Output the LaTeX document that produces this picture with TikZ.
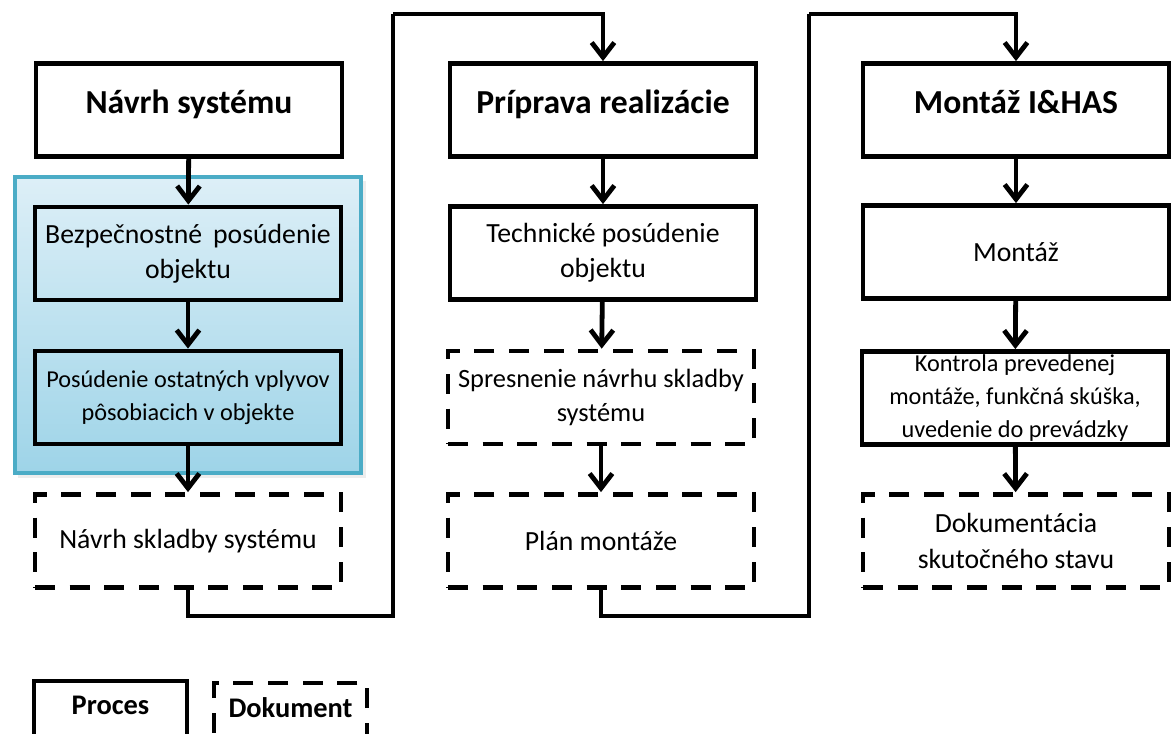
\documentclass[tikz,border=0pt]{standalone}
\usepackage{fontspec}
\setmainfont{Carlito}
\usetikzlibrary{arrows.meta}

\definecolor{hlTop}{HTML}{DDEFF7}
\definecolor{hlBot}{HTML}{9ED4E8}
\definecolor{hlEdge}{HTML}{4BACC6}

\tikzset{
  box/.style={draw=black, line width=3.6pt, align=center, inner sep=2pt,
    minimum width=0.75*306pt, minimum height=0.75*93pt,
    font=\fontsize{20.8}{26.5}\selectfont},
  procbox/.style={box},
  docbox/.style={box, dash pattern=on 15pt off 11pt},
  titlebox/.style={box, minimum height=0.75*93pt, text height=17pt, text depth=12.5pt,
    font=\fontsize{25.2}{28}\selectfont\bfseries},
  legbox/.style={box, minimum width=0.75*153pt, minimum height=0.75*80pt},
  legtext/.style={font=\fontsize{21.3}{24}\selectfont\bfseries},
  small/.style={font=\fontsize{18.2}{24.8}\selectfont},
  arr/.style={line width=3.6pt, -{Straight Barb[length=11pt, width=17pt, line width=3.6pt]}},
  conn/.style={line width=3.6pt},
}

\begin{document}
\begin{tikzpicture}[x=0.75pt, y=-0.75pt]
  \useasboundingbox (0,0) rectangle (1171,733);
  \clip (0,0) rectangle (1171,733);

  % highlighted group around the two assessment steps
  \fill[black!20, opacity=0.35] (18,181) rectangle (366,478);
  \shade[top color=hlTop, bottom color=hlBot, draw=hlEdge, line width=3.6pt]
    (15,177) rectangle (361,473);

  % column 1: system design
  \node[titlebox] (ns)  at (189,110)   {Návrh systému};
  \node[procbox]  (bp)  at (188,253.5) {Bezpečnostné\, posúdenie\\objektu};
  \node[procbox, small] (po) at (188,397.5) {Posúdenie ostatných vplyvov\\pôsobiacich v objekte};
  \node[docbox]   (nsk) at (188,541)   {Návrh skladby systému};

  % column 2: preparation
  \node[titlebox] (pr)  at (603,110)   {Príprava realizácie};
  \node[procbox]  (tp)  at (603,253)   {Technické posúdenie\\objektu};
  \node[docbox, font=\fontsize{19.8}{25}\selectfont] (sp) at (601,397.5) {Spresnenie návrhu skladby\\systému};
  \node[docbox]   (pm)  at (601,541)   {Plán montáže};

  % column 3: installation
  \node[titlebox] (mh)  at (1016,110)  {Montáž I\&HAS};
  \node[procbox]  (mo)  at (1016,252)  {Montáž};
  \node[procbox, small] (ko) at (1015,398) {Kontrola prevedenej\\montáže, funkčná skúška,\\uvedenie do prevádzky};
  \node[docbox]   (dk)  at (1016,541)  {Dokumentácia\\skutočného stavu};

  % legend
  \node[legbox]   (lp)  at (110.5,721) {};
  \node[legtext]  (lpt) at (110.5,705) {Proces};
  \node[legbox, dash pattern=on 15pt off 11pt] (ld) at (290.5,723) {};
  \node[legtext]  (ldt) at (290.5,708) {Dokument};

  % vertical flow inside columns
  \draw[arr] (ns) -- (bp);
  \draw[arr] (bp) -- (po);
  \draw[arr] (po) -- (nsk);
  \draw[arr] (pr) -- (tp);
  \draw[arr] (tp) -- (sp);
  \draw[arr] (sp) -- (pm);
  \draw[arr] (mh) -- (mo);
  \draw[arr] (mo) -- (ko);
  \draw[arr] (ko) -- (dk);

  % links between columns
  \coordinate (a1) at (393,616);
  \coordinate (a2) at (393,14);
  \coordinate (b1) at (809,616);
  \coordinate (b2) at (809,14);
  \draw[conn] (nsk.south) |- (a1) -- (a2);
  \draw[arr] (a2) -| (pr.north);
  \draw[conn] (pm.south) |- (b1) -- (b2);
  \draw[arr] (b2) -| (mh.north);
\end{tikzpicture}
\end{document}
